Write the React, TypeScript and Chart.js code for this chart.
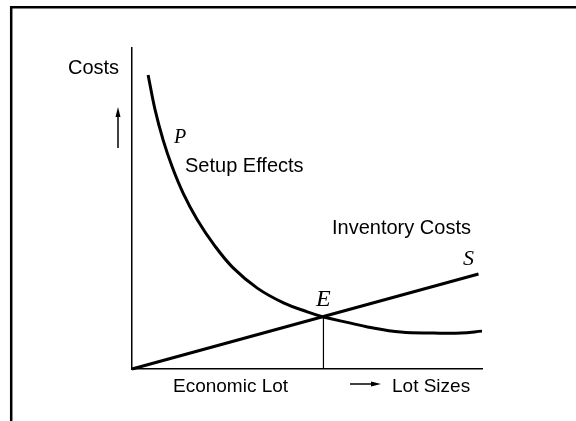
import React, { useEffect, useRef } from "react";
import { Chart, registerables } from "chart.js";

Chart.register(...registerables);

// Setup effects curve P (falls with lot size)
const setupX = [4.6, 6.6, 8.9, 11.5, 14.6, 18.6, 23.5, 28.9, 35.8, 43.3, 50.1, 54.7, 62.5, 67.3, 76.8, 86.2, 94.0, 100];
const setupY = [91.6, 80.7, 71.3, 62.9, 54.8, 46.6, 38.6, 31.5, 25.2, 20.6, 17.8, 16.2, 14.3, 13.1, 11.5, 11.2, 11.2, 11.8];
// Inventory costs line S (rises with lot size)
const inventoryX = [0, 99];
const inventoryY = [0, 29.6];
// Economic lot marker at E
const economicLotX = [54.7, 54.7];
const economicLotY = [0, 16.2];

const xMin = 0;
const xMax = 100;
const yMin = 0;
const yMax = 100;

const toPoints = (xs: number[], ys: number[]) => xs.map((x, i) => ({ x, y: ys[i] }));

const SANS = '"Liberation Sans", Arial, sans-serif';
const SERIF = '"Liberation Serif", "Times New Roman", serif';

const annotations = {
  id: "annotations",
  afterDraw(chart: any) {
    const ctx = chart.ctx as CanvasRenderingContext2D;
    ctx.save();
    // frame (top and left rules)
    ctx.strokeStyle = "#000";
    ctx.lineWidth = 2.5;
    ctx.beginPath();
    ctx.moveTo(11.2, 421);
    ctx.lineTo(11.2, 7.2);
    ctx.lineTo(576, 7.2);
    ctx.stroke();

    ctx.fillStyle = "#000";
    ctx.textBaseline = "alphabetic";
    ctx.textAlign = "left";
    ctx.font = `20px ${SANS}`;
    ctx.fillText("Costs", 68, 74);
    ctx.fillText("Setup Effects", 185, 172);
    ctx.fillText("Inventory Costs", 332, 234);
    ctx.font = `19px ${SANS}`;
    ctx.fillText("Economic Lot", 173, 392);
    ctx.fillText("Lot Sizes", 392, 392);

    ctx.font = `italic 20px ${SERIF}`;
    ctx.fillText("P", 174, 143);
    ctx.font = `italic 24px ${SERIF}`;
    ctx.fillText("E", 316, 306);
    ctx.font = `italic 22px ${SERIF}`;
    ctx.fillText("S", 463, 265);

    // up arrow
    ctx.lineWidth = 1.5;
    ctx.beginPath();
    ctx.moveTo(118, 148);
    ctx.lineTo(118, 114);
    ctx.stroke();
    ctx.beginPath();
    ctx.moveTo(118, 107);
    ctx.lineTo(115.5, 117);
    ctx.lineTo(120.5, 117);
    ctx.closePath();
    ctx.fill();

    // right arrow
    ctx.beginPath();
    ctx.moveTo(350, 384);
    ctx.lineTo(374, 384);
    ctx.stroke();
    ctx.beginPath();
    ctx.moveTo(381, 384);
    ctx.lineTo(371, 381.5);
    ctx.lineTo(371, 386.5);
    ctx.closePath();
    ctx.fill();
    ctx.restore();
  },
};

export default function App() {
  const ref = useRef<HTMLCanvasElement | null>(null);
  useEffect(() => {
    if (!ref.current) return;
    const chart = new Chart(ref.current, {
      type: "scatter",
      data: {
        datasets: [
          {
            label: "Setup Effects",
            data: toPoints(setupX, setupY),
            showLine: true,
            borderColor: "#000",
            borderWidth: 3,
            pointRadius: 0,
            tension: 0.4,
            clip: false,
          } as any,
          {
            label: "Inventory Costs",
            data: toPoints(inventoryX, inventoryY),
            showLine: true,
            borderColor: "#000",
            borderWidth: 3,
            pointRadius: 0,
            clip: false,
          } as any,
          {
            label: "Economic Lot",
            data: toPoints(economicLotX, economicLotY),
            showLine: true,
            borderColor: "#000",
            borderWidth: 1.2,
            pointRadius: 0,
            clip: false,
          } as any,
        ],
      },
      options: {
        animation: false,
        responsive: false,
        layout: { padding: { left: 132, top: 48, right: 94, bottom: 52 } },
        plugins: { legend: { display: false }, tooltip: { enabled: false } },
        scales: {
          x: {
            type: "linear",
            min: xMin,
            max: xMax,
            ticks: { display: false },
            grid: { display: false, drawTicks: false },
            border: { display: true, color: "#000", width: 1.5 },
          },
          y: {
            type: "linear",
            min: yMin,
            max: yMax,
            ticks: { display: false },
            grid: { display: false, drawTicks: false },
            border: { display: true, color: "#000", width: 1.5 },
          },
        },
      },
      plugins: [annotations],
    });
    return () => chart.destroy();
  }, []);
  return (
    <div style={{ position: "absolute", left: 0, top: 0, width: 576, height: 421, background: "#fff" }}>
      <canvas ref={ref} width={576} height={421} style={{ display: "block", width: 576, height: 421 }} />
    </div>
  );
}
